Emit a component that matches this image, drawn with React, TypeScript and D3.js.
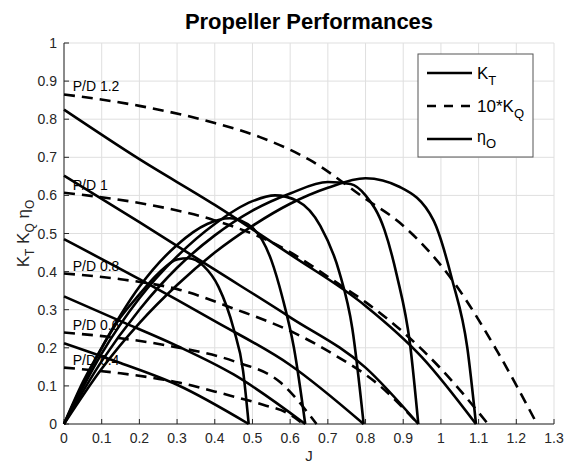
import React from 'react';
import * as d3 from 'd3';

// P/D values of each curve family
const pitchLabels = ['P/D 0.4', 'P/D 0.6', 'P/D 0.8', 'P/D 1', 'P/D 1.2'];

// [J, KT]
const kt04: [number, number][] = [[0, 0.212], [0.15, 0.16], [0.3, 0.103], [0.49, 0]];
const kt06: [number, number][] = [[0, 0.335], [0.15, 0.27], [0.3, 0.205], [0.45, 0.13], [0.64, 0]];
const kt08: [number, number][] = [[0, 0.485], [0.2, 0.38], [0.4, 0.27], [0.6, 0.155], [0.795, 0]];
const kt10: [number, number][] = [[0, 0.652], [0.2, 0.53], [0.4, 0.405], [0.6, 0.28], [0.8, 0.148], [0.94, 0]];
const kt12: [number, number][] = [[0, 0.825], [0.2, 0.695], [0.4, 0.575], [0.6, 0.445], [0.8, 0.31], [0.95, 0.175], [1.093, 0]];

// [J, 10*KQ]
const kq04: [number, number][] = [[0, 0.148], [0.15, 0.133], [0.308, 0.108], [0.42, 0.08], [0.53, 0.05], [0.59, 0.03], [0.635, 0]];
const kq06: [number, number][] = [[0, 0.24], [0.15, 0.225], [0.29, 0.203], [0.45, 0.165], [0.573, 0.11], [0.67, 0]];
const kq08: [number, number][] = [[0, 0.395], [0.15, 0.38], [0.308, 0.352], [0.45, 0.303], [0.607, 0.241], [0.72, 0.18], [0.83, 0.107], [0.94, 0]];
const kq10: [number, number][] = [[0, 0.607], [0.2, 0.58], [0.398, 0.535], [0.565, 0.47], [0.74, 0.36], [0.8, 0.32], [1.0, 0.145], [1.125, 0]];
const kq12: [number, number][] = [[0, 0.865], [0.2, 0.835], [0.4, 0.79], [0.52, 0.753], [0.652, 0.693], [0.8, 0.591], [0.891, 0.528], [1.03, 0.378], [1.15, 0.19], [1.255, 0]];

// [J, eta_O]
const eta04: [number, number][] = [[0, 0], [0.05, 0.11], [0.1, 0.2], [0.15, 0.28], [0.2, 0.34], [0.25, 0.395], [0.3, 0.432], [0.33, 0.435], [0.37, 0.415], [0.41, 0.36], [0.45, 0.25], [0.475, 0.14], [0.49, 0]];
const eta06: [number, number][] = [[0, 0], [0.05, 0.105], [0.1, 0.2], [0.2, 0.36], [0.3, 0.47], [0.38, 0.525], [0.44, 0.54], [0.5, 0.515], [0.55, 0.43], [0.58, 0.33], [0.61, 0.2], [0.64, 0]];
const eta08: [number, number][] = [[0, 0], [0.1, 0.185], [0.2, 0.33], [0.3, 0.44], [0.4, 0.525], [0.5, 0.585], [0.56, 0.6], [0.62, 0.585], [0.68, 0.52], [0.73, 0.4], [0.765, 0.25], [0.795, 0]];
const eta10: [number, number][] = [[0, 0], [0.1, 0.165], [0.2, 0.3], [0.3, 0.41], [0.4, 0.495], [0.5, 0.56], [0.6, 0.605], [0.7, 0.635], [0.76, 0.63], [0.8, 0.6], [0.85, 0.51], [0.883, 0.39], [0.918, 0.21], [0.94, 0]];
const eta12: [number, number][] = [[0, 0], [0.1, 0.145], [0.2, 0.265], [0.3, 0.365], [0.4, 0.45], [0.5, 0.52], [0.6, 0.578], [0.7, 0.62], [0.8, 0.645], [0.891, 0.622], [0.98, 0.535], [1.03, 0.378], [1.07, 0.2], [1.093, 0]];

const ktCurves = [kt04, kt06, kt08, kt10, kt12];
const kqCurves = [kq04, kq06, kq08, kq10, kq12];
const etaCurves = [eta04, eta06, eta08, eta10, eta12];

const xTicks = d3.range(0, 14).map(i => i / 10);
const yTicks = d3.range(0, 11).map(i => i / 10);

const W = 568;
const H = 468;
const margin = { top: 43, right: 14, bottom: 44, left: 64 };
const FONT = 'Liberation Sans, Arial, Helvetica, sans-serif';
const AXIS = '#262626';

const App = () => {
    const x = d3.scaleLinear().domain([0, 1.3]).range([margin.left, W - margin.right]);
    const y = d3.scaleLinear().domain([0, 1]).range([H - margin.bottom, margin.top]);

    const line = d3
        .line<[number, number]>()
        .x(d => x(d[0]))
        .y(d => y(d[1]))
        .curve(d3.curveMonotoneX);

    const x0 = x(0);
    const x1 = x(1.3);
    const y0 = y(0);
    const y1 = y(1);

    const lx = 418, ly = 54, lw = 115, lh = 103;

    return (
        <svg width={W} height={H} style={{ position: 'absolute', left: 0, top: 0, background: '#fff' }} fontFamily={FONT}>
            {/* grid */}
            {xTicks.map(t => (
                <line key={'gx' + t} x1={x(t)} x2={x(t)} y1={y0} y2={y1} stroke="#dfdfdf" strokeWidth={1} />
            ))}
            {yTicks.map(t => (
                <line key={'gy' + t} x1={x0} x2={x1} y1={y(t)} y2={y(t)} stroke="#dfdfdf" strokeWidth={1} />
            ))}

            {/* axes */}
            <line x1={x0} x2={x1} y1={y0} y2={y0} stroke={AXIS} strokeWidth={1} />
            <line x1={x0} x2={x0} y1={y0} y2={y1} stroke={AXIS} strokeWidth={1} />
            {xTicks.map(t => (
                <g key={'tx' + t}>
                    <line x1={x(t)} x2={x(t)} y1={y0} y2={y0 - 5} stroke={AXIS} />
                    <text x={x(t)} y={y0 + 19} textAnchor="middle" fontSize={14} fill={AXIS}>{d3.format('~g')(t)}</text>
                </g>
            ))}
            {yTicks.map(t => (
                <g key={'ty' + t}>
                    <line x1={x0} x2={x0 + 5} y1={y(t)} y2={y(t)} stroke={AXIS} />
                    <text x={x0 - 7} y={y(t) + 5} textAnchor="end" fontSize={14} fill={AXIS}>{d3.format('~g')(t)}</text>
                </g>
            ))}

            {/* curves */}
            {ktCurves.map((c, i) => (
                <path key={'kt' + i} d={line(c) || ''} fill="none" stroke="#000" strokeWidth={2.6} />
            ))}
            {kqCurves.map((c, i) => (
                <path key={'kq' + i} d={line(c) || ''} fill="none" stroke="#000" strokeWidth={2.6} strokeDasharray="11,7" />
            ))}
            {etaCurves.map((c, i) => (
                <path key={'eta' + i} d={line(c) || ''} fill="none" stroke="#000" strokeWidth={2.6} />
            ))}

            {/* P/D labels */}
            {pitchLabels.map((p, i) => (
                <text key={p} x={x(0.023)} y={y(kqCurves[i][0][1]) - 3} fontSize={14} fill="#000">{p}</text>
            ))}

            {/* title and axis labels */}
            <text x={(x0 + x1) / 2} y={29} textAnchor="middle" fontSize={22} fontWeight="bold" fill="#000">Propeller Performances</text>
            <text x={(x0 + x1) / 2} y={461} textAnchor="middle" fontSize={15} fill={AXIS}>J</text>
            <text transform={`translate(29,${(y0 + y1) / 2}) rotate(-90)`} textAnchor="middle" fontSize={17} fill={AXIS}>
                K<tspan fontSize={12} dy={5}>T</tspan>
                <tspan dy={-5}> K</tspan><tspan fontSize={12} dy={5}>Q</tspan>
                <tspan dy={-5}> η</tspan><tspan fontSize={12} dy={5}>O</tspan>
            </text>

            {/* legend */}
            <rect x={lx} y={ly} width={lw} height={lh} fill="#fff" stroke="#555" strokeWidth={1} />
            <line x1={427} x2={472} y1={73} y2={73} stroke="#000" strokeWidth={2.6} />
            <line x1={427} x2={472} y1={106} y2={106} stroke="#000" strokeWidth={2.6} strokeDasharray="9,8" />
            <line x1={427} x2={472} y1={139} y2={139} stroke="#000" strokeWidth={2.6} />
            <text x={477} y={79} fontSize={17} fill="#000">K<tspan fontSize={13} dy={6}>T</tspan></text>
            <text x={477} y={112} fontSize={17} fill="#000">10*K<tspan fontSize={13} dy={6}>Q</tspan></text>
            <text x={477} y={142} fontSize={16} fill="#000">η<tspan fontSize={13} dy={6}>O</tspan></text>
        </svg>
    );
};

export default App;
